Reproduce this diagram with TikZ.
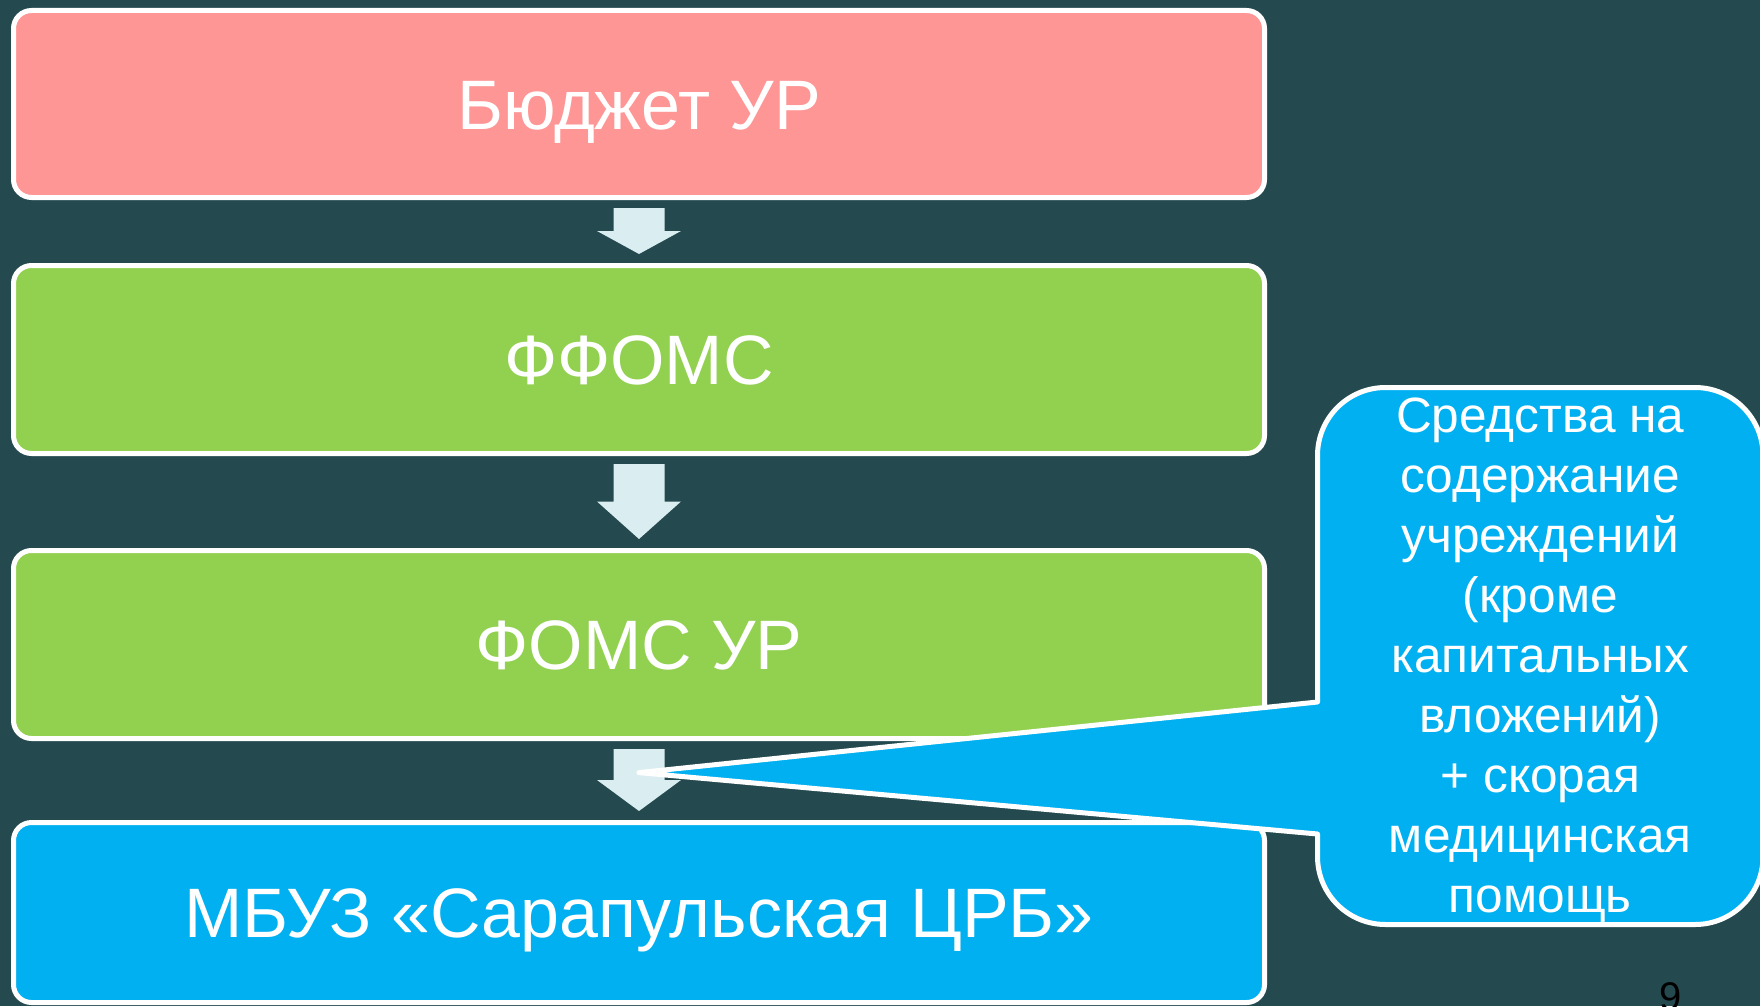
\documentclass[tikz,border=0pt]{standalone}
\usepackage{fontspec}
\setmainfont{Liberation Sans}
\usetikzlibrary{positioning,calc}
\definecolor{bgteal}{HTML}{244A50}
\definecolor{budgetpink}{HTML}{FF9696}
\definecolor{fundgreen}{HTML}{92D050}
\definecolor{hospblue}{HTML}{00B0F0}
\definecolor{arrowpale}{HTML}{DAEDF0}
\begin{document}
\begin{tikzpicture}[x=0.5pt,y=-0.5pt]
	\tikzstyle{level}=[rectangle,rounded corners=9pt,draw=white,line width=2.5pt,minimum width=625.5pt,text=white,font=\fontsize{35}{42}\selectfont,text height=25pt,text depth=0pt];
	\tikzstyle{flow}=[fill=arrowpale];
	\tikzstyle{note}=[rectangle,rounded corners=34pt,draw=white,fill=hospblue,line width=2.5pt,outer sep=0pt,minimum width=222.75pt,minimum height=268.5pt];
	\tikzstyle{notetext}=[align=center,text=white,font=\fontsize{24.8}{30}\selectfont];
	\useasboundingbox (0,0) rectangle (1760,1006);
	\fill[bgteal] (0,0) rectangle (1760,1006);
	\clip (0,0) rectangle (1760,1006);
	\node[level,fill=budgetpink,minimum height=93.5pt] (budget) at (639,104) {Бюджет УР};
	\node[level,fill=fundgreen,minimum height=94pt] (ffoms) at (639,359.5) {ФФОМС};
	\node[level,fill=fundgreen,minimum height=94pt] (foms) at (639,644.5) {ФОМС УР};
	\node[level,fill=hospblue,minimum height=90pt] (hosp) at (639,912.5) {МБУЗ «Сарапульская ЦРБ»};
	\foreach \from/\to in {budget/ffoms,ffoms/foms,foms/hosp}
		\fill[flow] let \p1=($(\from.south)+(0,8)$), \p2=($(\to.north)+(0,-9)$) in
			(\x1-12.75pt,\y1) -- (\x1+12.75pt,\y1) -- (\x1+12.75pt,{(\y1+\y2)/2}) -- (\x1+21pt,{(\y1+\y2)/2})
			-- (\x2,\y2) -- (\x1-21pt,{(\y1+\y2)/2}) -- (\x1-12.75pt,{(\y1+\y2)/2}) -- cycle;
	\node[note] (note) at (1540.25,656) {};
	\coordinate (pin) at ($(foms.south)!0.4!(hosp.north)$);
	\fill[hospblue] (pin) -- ($(note.west)+(0,46)$) -- ($(note.west)+(6,46)$) -- ($(note.west)+(6,178)$) -- ($(note.west)+(0,178)$) -- cycle;
	\draw[white,line width=2.5pt,line cap=round,line join=round] ($(note.west)+(0,46)$) -- (pin) -- ($(note.west)+(0,178)$);
	\node[notetext] (notetext) at ($(note.center)+(0,4)$) {Средства на\\содержание\\учреждений\\(кроме\\капитальных\\вложений)\\+ скорая\\медицинская\\помощь};
	\node[anchor=north,inner sep=0pt,font=\fontsize{20}{24}\selectfont] (page) at (1671,982) {9};
\end{tikzpicture}
\end{document}
